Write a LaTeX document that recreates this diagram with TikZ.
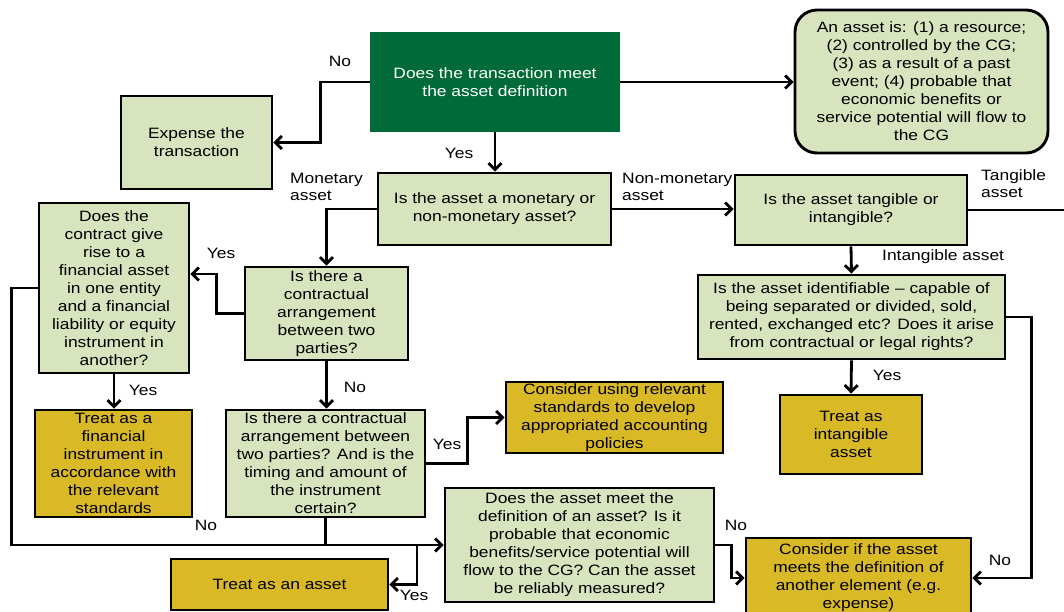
\documentclass[tikz,border=0pt]{standalone}
\usepackage{fontspec}
\setmainfont{Liberation Sans}[FakeStretch=1.16]
\usetikzlibrary{arrows.meta,calc}
\definecolor{boxgreen}{HTML}{D7E4BD}
\definecolor{boxgold}{HTML}{D9B926}
\definecolor{topgreen}{HTML}{006B38}
\begin{document}
\begin{tikzpicture}[x=1pt,y=-1pt,
  every node/.style={font=\fontsize{15}{18}\selectfont, align=center, inner sep=0pt},
  qbox/.style={draw=black, line width=2.9pt, fill=boxgreen},
  abox/.style={draw=black, line width=2.9pt, fill=boxgold},
  lbl/.style={font=\fontsize{15}{17}\selectfont},
  link/.style={line width=2.8pt, line join=miter},
  arr/.style={link, -{Straight Barb[length=6.5pt,width=13pt,line width=2.8pt]}}]
\useasboundingbox (0,0) rectangle (1064,611);
\clip (0,0) rectangle (1064,611);
\fill[white] (0,0) rectangle (1064,611);

% decision and outcome boxes
\node[fill=topgreen, text=white, minimum width=250pt, minimum height=100pt] (top) at (495,82)
  {Does the transaction meet\\the asset definition};
\node[qbox, minimum width=151pt, minimum height=93pt] (expense) at (196.5,142.5)
  {Expense the\\transaction};
\node[qbox, rounded corners=22pt, minimum width=253pt, minimum height=143pt] (def) at (921.5,81.5)
  {An asset is: (1) a resource;\\(2) controlled by the CG;\\(3) as a result of a past\\event; (4) probable that\\economic benefits or\\service potential will flow to\\the CG};
\node[qbox, minimum width=233pt, minimum height=72pt] (money) at (494.5,209)
  {Is the asset a monetary or\\non-monetary asset?};
\node[qbox, minimum width=232pt, minimum height=70pt] (tang) at (851,210)
  {Is the asset tangible or\\intangible?};
\node[qbox, minimum width=307pt, minimum height=84pt] (ident) at (851.5,317)
  {Is the asset identifiable -- capable of\\being separated or divided, sold,\\rented, exchanged etc? Does it arise\\from contractual or legal rights?};
\node[abox, minimum width=142pt, minimum height=79pt] (intang) at (851,434.5)
  {Treat as\\intangible\\asset};
\node[qbox, minimum width=163pt, minimum height=93pt] (contract) at (326.5,313.5)
  {Is there a\\contractual\\arrangement\\between two\\parties?};
\node[qbox, minimum width=150pt, minimum height=170pt] (fin) at (114,288)
  {Does the\\contract give\\rise to a\\financial asset\\in one entity\\and a financial\\liability or equity\\instrument in\\another?};
\node[abox, minimum width=157pt, minimum height=107pt] (treatfin) at (113.5,463.5)
  {Treat as a\\financial\\instrument in\\accordance with\\the relevant\\standards};
\node[qbox, minimum width=199pt, minimum height=107pt] (timing) at (325.5,463.5)
  {Is there a contractual\\arrangement between\\two parties? And is the\\timing and amount of\\the instrument\\certain?};
\node[abox, minimum width=217pt, minimum height=71pt] (develop) at (614.5,417.5)
  {Consider using relevant\\standards to develop\\appropriated accounting\\policies};
\node[qbox, minimum width=269pt, minimum height=114pt] (meets) at (579.5,545)
  {Does the asset meet the\\definition of an asset? Is it\\probable that economic\\benefits/service potential will\\flow to the CG? Can the asset\\be reliably measured?};
\node[abox, minimum width=225pt, minimum height=80pt] (other) at (858.5,578)
  {Consider if the asset\\meets the definition of\\another element (e.g.\\expense)};
\node[abox, minimum width=217pt, minimum height=51pt] (asset) at (279.5,584.5)
  {Treat as an asset};

% loose ends and junctions
\coordinate (offpage) at (1070,210);
\coordinate (join) at (417,545);

% connectors
\draw[arr] (top.west) -- ++(-49,0) |- (expense.east);
\draw[arr] (top.south) -- (top.south |- money.north);
\draw[arr] (top.east) -- (top.east -| def.west);
\draw[arr] (money.east) -- (money.east -| tang.west);
\draw[link] (tang.east) -- (offpage);
\draw[arr] (tang.south) -- (ident.north);
\draw[arr] (ident.south) -- (intang.north);
\draw[arr] (ident.east) -- ++(25,0) |- (other.east);
\draw[arr] (money.west) -| (contract.north);
\draw[arr] (contract.west) -- ++(-27,0) |- ($(fin.east)+(0,-14)$);
\draw[arr] (fin.south) -- (fin.south |- treatfin.north);
\draw[arr] (fin.west) -- ++(-26,0) |- (meets.west);
\draw[arr] (contract.south) -- (contract.south |- timing.north);
\draw[arr] (timing.east) -- ++(41,0) |- (develop.west);
\draw[link] (timing.south) -- (timing.south |- meets.west);
\draw[arr] (join) |- (asset.east);
\draw[arr] (meets.east) -- ++(16,0) |- (other.west);

% branch labels
\node[lbl] (l1) at (340,61) {No};
\node[lbl] (l2) at (459,153) {Yes};
\node[lbl, align=left, anchor=west] (l3) at (290,187) {Monetary\\asset};
\node[lbl, align=left, anchor=west] (l4) at (622,187) {Non-monetary\\asset};
\node[lbl, align=left, anchor=west] (l5) at (981,184) {Tangible\\asset};
\node[lbl, anchor=west] (l6) at (882,257) {Intangible asset};
\node[lbl] (l7) at (221,253) {Yes};
\node[lbl] (l8) at (143,390) {Yes};
\node[lbl] (l9) at (355,387) {No};
\node[lbl] (l10) at (447,444) {Yes};
\node[lbl] (l11) at (206,525) {No};
\node[lbl] (l12) at (414,595) {Yes};
\node[lbl] (l13) at (736,525) {No};
\node[lbl] (l14) at (1000,560) {No};
\node[lbl] (l15) at (887,375) {Yes};
\end{tikzpicture}
\end{document}
